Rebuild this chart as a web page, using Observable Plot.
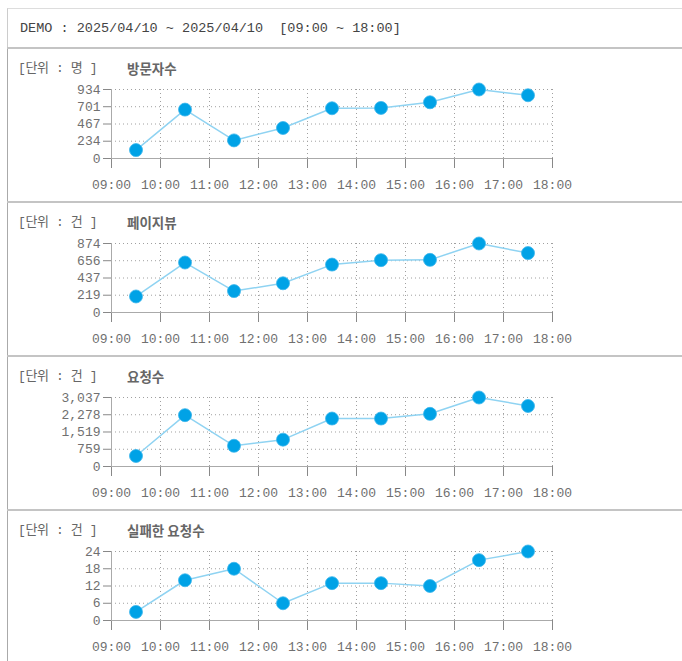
<!DOCTYPE html>
<html>
<head>
<meta charset="utf-8">
<script src="https://cdn.jsdelivr.net/npm/d3@7"></script>
<script src="https://cdn.jsdelivr.net/npm/@observablehq/plot@0.6"></script>
<style>
  html, body { margin: 0; padding: 0; background: #fff; }
  body { width: 682px; height: 661px; position: relative; overflow: hidden;
         font-family: "Liberation Mono", "Noto Sans CJK KR", monospace; color: #555; }
  .frame { position: absolute; left: 7px; top: 8px; width: 690px; height: 670px;
           border-top: 1px solid #ddd; border-left: 1px solid #ccc; }
  .header { position: absolute; left: 20px; top: 19px; font-size: 13.5px; color: #444; line-height: 20px; white-space: pre; }
  .sep { position: absolute; left: 7px; width: 690px; height: 2px; background: #c4c4c4; }
  .panelLeft { position: absolute; left: 7px; width: 1px; top: 49px; height: 620px; background: #aaa; }
  .unit { position: absolute; left: 18px; font-size: 13px; color: #666; line-height: 16px; white-space: pre; letter-spacing: -0.4px; }
  .title { position: absolute; left: 127px; font-family: "Noto Sans CJK KR", sans-serif; font-size: 13.5px; font-weight: bold; color: #666; line-height: 16px; }
  .chart { position: absolute; left: 0; }
</style>
</head>
<body>
<div class="frame"></div>
<div class="panelLeft"></div>
<div class="header" id="header"></div>
<div id="panels"></div>
<script>
const headerText = "DEMO : 2025/04/10 ~ 2025/04/10  [09:00 ~ 18:00]";
const xTickHours = [9, 10, 11, 12, 13, 14, 15, 16, 17, 18];
const xTickLabels = ["09:00", "10:00", "11:00", "12:00", "13:00", "14:00", "15:00", "16:00", "17:00", "18:00"];
const slotTimes = ["09:30", "10:30", "11:30", "12:30", "13:30", "14:30", "15:30", "16:30", "17:30"];

const panelTitles = ["방문자수", "페이지뷰", "요청수", "실패한 요청수"];
const panelUnits = ["[단위 : 명 ]", "[단위 : 건 ]", "[단위 : 건 ]", "[단위 : 건 ]"];

const visitors  = [114, 662, 245, 413, 680, 685, 761, 934, 856];
const pageviews = [203, 633, 271, 370, 607, 663, 667, 874, 753];
const requests  = [463, 2260, 912, 1182, 2111, 2111, 2318, 3037, 2664];
const failed    = [3, 14, 18, 6, 13, 13, 12, 21, 24];

const yTicks1 = [0, 234, 467, 701, 934];
const yTicks2 = [0, 219, 437, 656, 874];
const yTicks3 = [0, 759, 1519, 2278, 3037];
const yTicks4 = [0, 6, 12, 18, 24];

const seriesList = [visitors, pageviews, requests, failed];
const tickList = [yTicks1, yTicks2, yTicks3, yTicks4];

document.getElementById("header").textContent = headerText;

const slotHours = slotTimes.map(t => { const [h, m] = t.split(":").map(Number); return h + m / 60; });
const labelFor = new Map(xTickHours.map((h, i) => [h, xTickLabels[i]]));
const fmt = d3.format(",");

const panels = document.getElementById("panels");
const PANEL_TOP = 49, PANEL_H = 154;

seriesList.forEach((vals, p) => {
  const top = PANEL_TOP + p * PANEL_H;
  const s = document.createElement("div");
  s.className = "sep"; s.style.top = (top - 2) + "px";
  panels.appendChild(s);
  const u = document.createElement("div");
  u.className = "unit"; u.style.top = (top + 12) + "px"; u.textContent = panelUnits[p];
  panels.appendChild(u);
  const t = document.createElement("div");
  t.className = "title"; t.style.top = (top + 11) + "px"; t.textContent = panelTitles[p];
  panels.appendChild(t);

  const ticks = tickList[p];
  const data = vals.map((v, i) => ({x: slotHours[i], y: v}));
  const chart = Plot.plot({
    width: 682,
    height: 152,
    marginLeft: 111,
    marginRight: 130,
    marginTop: 40,
    marginBottom: 43,
    style: {fontFamily: "'Liberation Mono', monospace", fontSize: "13px", color: "#666", background: "transparent"},
    x: {domain: [xTickHours[0], xTickHours[xTickHours.length - 1]]},
    y: {domain: [0, ticks[ticks.length - 1]]},
    marks: [
      Plot.gridX(xTickHours.slice(1), {stroke: "#a0a0a0", strokeOpacity: 1, strokeDasharray: "1,3"}),
      Plot.gridY(ticks.slice(1), {stroke: "#a0a0a0", strokeOpacity: 1, strokeDasharray: "1,3"}),
      Plot.axisX(xTickHours, {tickSize: 10, tickPadding: 11, stroke: "#888", fill: "#707070", label: null, tickFormat: h => labelFor.get(h)}),
      Plot.axisY(ticks, {tickSize: 8, tickPadding: 3, stroke: "#888", fill: "#707070", label: null, tickFormat: v => fmt(v)}),
      Plot.ruleY([0], {stroke: "#aaa"}),
      Plot.ruleX([xTickHours[0]], {stroke: "#aaa"}),
      Plot.line(data, {x: "x", y: "y", stroke: "#8fd3f2", strokeWidth: 1.5}),
      Plot.dot(data, {x: "x", y: "y", r: 6.5, fill: "#00a2e6", stroke: "#3cb6ec", strokeWidth: 0.8})
    ]
  });
  const wrap = document.createElement("div");
  wrap.className = "chart"; wrap.style.top = top + "px";
  wrap.appendChild(chart);
  panels.appendChild(wrap);
});
</script>
</body>
</html>
